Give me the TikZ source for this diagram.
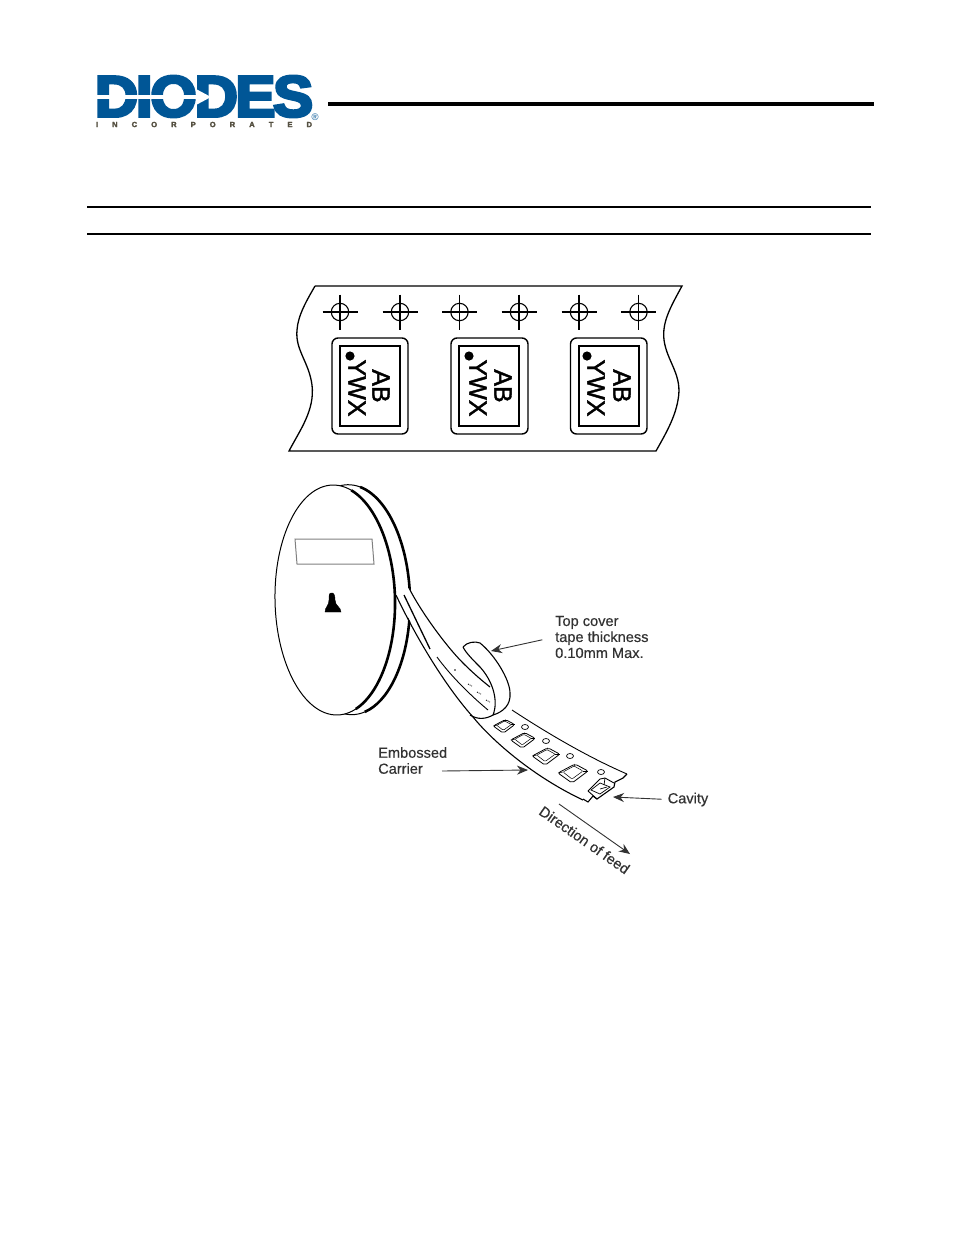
\documentclass[tikz,border=0pt]{standalone}
\usepackage{fontspec}
\setmainfont{Liberation Sans}
\newfontfamily\logofont[FakeBold=5,LetterSpace=-4]{Liberation Sans Bold}
\newfontfamily\logosmall[FakeBold=3]{Liberation Sans Bold}
\newfontfamily\markfont[FakeBold=1.5]{Liberation Sans}
\newfontfamily\labelfont[FakeBold=0.4]{Liberation Sans}
\usetikzlibrary{arrows.meta}
\definecolor{logoblue}{RGB}{0,86,150}
\definecolor{logogray}{RGB}{85,80,65}
\definecolor{labelgray}{RGB}{50,50,50}

\tikzset{
  tapeline/.style={black,line width=1.1},
  reelthick/.style={black,line width=2.6},
  feedarrow/.style={-{Stealth[length=11pt,width=9pt]},labelgray,line width=0.9},
  feedlabel/.style={inner sep=0,labelgray,align=left,font=\fontsize{14.6}{16}\labelfont},
  partmark/.style={inner sep=0,rotate=-90,font=\fontsize{25}{25}\markfont},
  target/.pic={
    \draw[line width=1.1] (0,0) circle (8.7);
    \draw[line width=1.1] (-17.5,0) -- (17.5,0);
    \draw[line width=1.1] (0,-17.5) -- (0,17.5);
  },
  pocket/.pic={
    \draw[line width=0.8,rounded corners=2,fill=white] (-15,0) -- (2,-9) -- (15,-2) -- (-1,10) -- cycle;
    \draw[line width=0.5,rounded corners=1] (-10,-1) -- (1,-7) -- (10,-2) -- (-1,6) -- cycle;
    \draw[line width=0.5] (1,-7) -- (2,-9);
    \draw[line width=0.5] (10,-2) -- (15,-2);
    \draw[line width=0.5] (-10,-1) -- (-15,0);
  }
}

\begin{document}
\begin{tikzpicture}[x=1pt,y=-1pt]
  \useasboundingbox[fill=white] (0,0) rectangle (954,1235);

  % logo
  \node[inner sep=0,logoblue,xscale=1.035,transform shape,font=\fontsize{58}{58}\logofont] (logoname) at (204,96.5) {DIODES};
  \fill[white] (90,95) rectangle (198,99);
  \fill[white] (196,89) -- (211,97) -- (196,105) -- cycle;
  \node[inner sep=0,logogray,text width=216pt,font=\fontsize{7.5}{8}\logosmall] (logosub) at (204,124.5) {I\hfill N\hfill C\hfill O\hfill R\hfill P\hfill O\hfill R\hfill A\hfill T\hfill E\hfill D};
  \node[inner sep=0,logoblue,font=\fontsize{9.5}{9.5}\selectfont] (logoreg) at (315,117.5) {®};

  % header rules
  \draw[line width=4.5] (328,104) -- (874,104);
  \draw[line width=1.5] (87,207) -- (871,207);
  \draw[line width=1.5] (87,234) -- (871,234);

  % tape strip
  \draw[tapeline,line width=1.3] (315,286) -- (682,286) .. controls (670,308) and (662,322) .. (664,340)
    .. controls (667,362) and (683,375) .. (678,400) .. controls (675,418) and (665,435) .. (656,451)
    -- (289,451) .. controls (300,430) and (315,410) .. (312,385)
    .. controls (309,362) and (295,350) .. (297,330) .. controls (298,315) and (307,300) .. (315,286);

  \pic at (340,312) {target};
  \pic at (400,312) {target};
  \pic at (459.5,312) {target};
  \pic at (519,312) {target};
  \pic at (579,312) {target};
  \pic at (638.5,312) {target};

  \draw[line width=1.4,rounded corners=6] (332,338) rectangle (408,434);
  \draw[line width=1.4,rounded corners=6] (451,338) rectangle (528,434);
  \draw[line width=1.4,rounded corners=6] (570.5,338) rectangle (647,434);
  \draw[line width=1.1] (340,346) rectangle (400,426);
  \draw[line width=1.1] (459,346) rectangle (519,426);
  \draw[line width=1.1] (579,346) rectangle (639,426);
  \fill (350,356) circle (4.6);
  \fill (469,356) circle (4.6);
  \fill (587,356) circle (4.6);
  \node[partmark] (ywxa) at (357,388) {YWX};
  \node[partmark] (aba) at (381,386) {AB};
  \node[partmark] (ywxb) at (478,388) {YWX};
  \node[partmark] (abb) at (503,386) {AB};
  \node[partmark] (ywxc) at (596,388) {YWX};
  \node[partmark] (abc) at (622,386) {AB};

  % reel
  \begin{scope}[rotate around={1.2:(335,600)}]
    \draw[line width=1,fill=white] (350,600) ellipse (60 and 115);
    \draw[reelthick] ([shift={(-78:60 and 115)}]350,600) arc[start angle=-78,end angle=78,x radius=60,y radius=115];
    \draw[line width=1,fill=white] (335,600) ellipse (60 and 115);
    \draw[reelthick] ([shift={(-72:60 and 115)}]335,600) arc[start angle=-72,end angle=72,x radius=60,y radius=115];
  \end{scope}
  \draw[gray,line width=1] (295,539) -- (372,539) -- (374,564) -- (297,564) -- cycle;
  \filldraw[black] (331,593) .. controls (334,592) and (335,596) .. (335,600) .. controls (335,606) and (341,607) .. (341,612)
    -- (325,612) .. controls (325,607) and (329,606) .. (329,600) .. controls (329,596) and (329,593) .. (331,593);

  % tape leaving reel
  \fill[white] (396,595) -- (409,588) -- (420,605) -- (445,640) -- (500,690) -- (512,710) -- (627,775) -- (583,800) -- (527,770) -- (473,717) -- (433,663) -- cycle;
  \draw[tapeline] (396,595) .. controls (410,625) and (440,680) .. (473,717)
    .. controls (490,738) and (530,775) .. (583,800);
  \draw[tapeline] (409,588) .. controls (420,610) and (445,645) .. (463,663) .. controls (475,675) and (485,683) .. (490,687);
  \draw[tapeline,line width=1.3] (404,595) -- (430,649);
  \draw[tapeline,line width=0.9] (437,657) .. controls (450,675) and (470,695) .. (488,710);
  \draw[tapeline,line width=0.9] (512,710) .. controls (550,735) and (590,758) .. (627,774);

  % top cover loop
  \draw[tapeline,fill=white] (463,647) .. controls (467,642) and (475,641) .. (480,643)
    .. controls (495,655) and (510,680) .. (510,693) .. controls (511,705) and (503,712) .. (493,715)
    .. controls (499,700) and (492,680) .. (480,667) .. controls (473,660) and (466,653) .. (463,647);
  \draw[tapeline] (470,715) .. controls (478,720) and (486,719) .. (493,715);
  \draw[line width=0.9,densely dotted] (468,684) -- (472,686);
  \draw[line width=0.9,densely dotted] (477,692) -- (481,694);
  \draw[line width=0.9,densely dotted] (486,700) -- (490,702);
  \fill (455,670) circle (0.9);

  % carrier pockets
  \pic[scale=0.72] at (504,726) {pocket};
  \pic[scale=0.82] at (523,740) {pocket};
  \pic[scale=0.92] at (546,756) {pocket};
  \pic at (573,773) {pocket};
  \draw[line width=0.7] (525,727) ellipse (3.5 and 2.5);
  \draw[line width=0.7] (546,741) ellipse (3.5 and 2.5);
  \draw[line width=0.7] (570,756) ellipse (3.5 and 2.5);
  \draw[line width=0.7] (601,772) ellipse (3.5 and 2.5);

  % cavity end
  \draw[tapeline,fill=white] (627,774) -- (623,778) -- (615,782) -- (614,787) -- (597,799) -- (593,796) -- (588,802) -- (583,799);
  \draw[line width=0.9] (588,791) -- (600,779) -- (605,778) -- (614,783);
  \draw[line width=0.9] (588,791) -- (597,799);
  \draw[line width=0.7] (591,790) -- (600,783) -- (610,787) -- (600,794) -- cycle;
  \draw[line width=0.7] (605,778) -- (604,785);
  \draw[line width=0.7] (600,789) -- (607,787);

  % labels
  \node[feedlabel,anchor=west] (lblcover) at (555,637) {Top cover\\tape thickness\\0.10mm Max.};
  \node[feedlabel,anchor=west] (lblcarrier) at (378,760.5) {Embossed\\Carrier};
  \node[feedlabel,anchor=west] (lblcavity) at (667.5,799.5) {Cavity};
  \node[feedlabel,rotate=-35] (lblfeed) at (584.5,840) {Direction of feed};
  \coordinate (covertip) at (491,651);
  \coordinate (carriertail) at (442,771);
  \coordinate (carriertip) at (528,770);
  \coordinate (cavitytip) at (613,797);
  \coordinate (feedtail) at (559,804);
  \coordinate (feedtip) at (630,854);
  \draw[feedarrow,shorten <=13pt] (lblcover.west) -- (covertip);
  \draw[feedarrow] (carriertail) -- (carriertip);
  \draw[feedarrow,shorten <=6pt] (lblcavity.west) -- (cavitytip);
  \draw[feedarrow] (feedtail) -- (feedtip);
\end{tikzpicture}
\end{document}
